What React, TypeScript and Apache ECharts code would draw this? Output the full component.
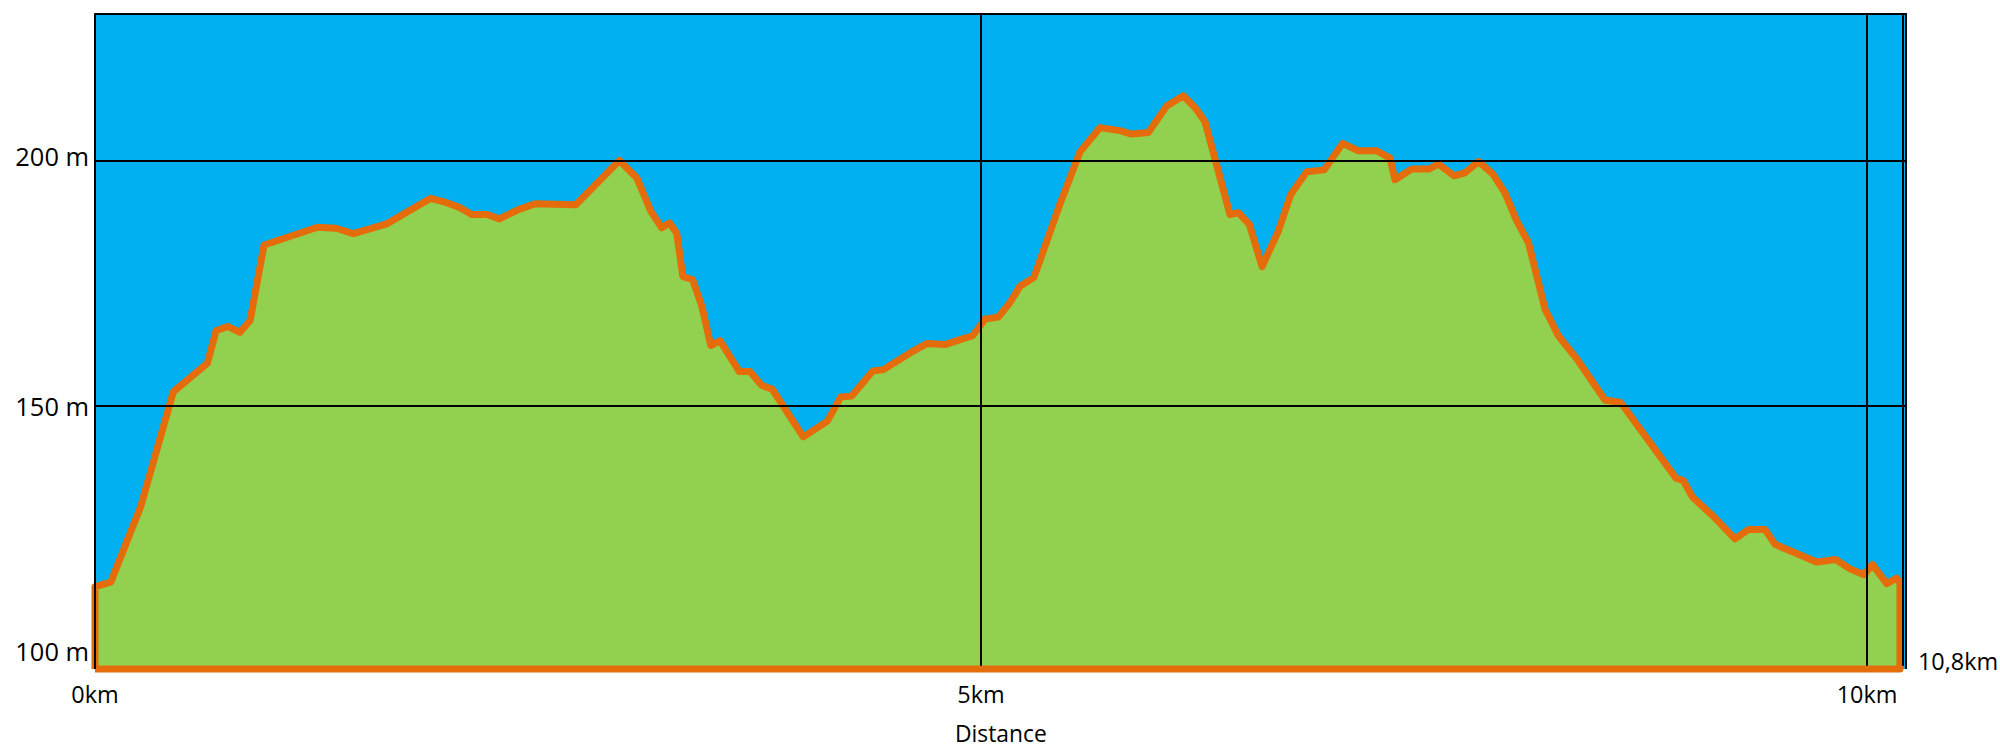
import React, { useEffect, useRef } from "react";
import * as echarts from "echarts";

// Elevation profile (distance in km, elevation in m)
const distanceKm = [
  0, 0.089, 0.258, 0.442, 0.634, 0.683, 0.749, 0.818, 0.875, 0.954,
  1.255, 1.36, 1.458, 1.646, 1.894, 1.985, 2.06, 2.126, 2.214, 2.282,
  2.389, 2.483, 2.713, 2.959, 3.057, 3.136, 3.198, 3.241, 3.283, 3.317,
  3.373, 3.424, 3.475, 3.527, 3.636, 3.696, 3.762, 3.822, 3.997, 4.133,
  4.208, 4.27, 4.389, 4.449, 4.599, 4.694, 4.797, 4.881, 4.953, 5.023,
  5.098, 5.164, 5.22, 5.299, 5.446, 5.559, 5.671, 5.784, 5.85, 5.944,
  6.048, 6.142, 6.212, 6.264, 6.405, 6.452, 6.514, 6.586, 6.678, 6.748,
  6.838, 6.937, 7.041, 7.129, 7.233, 7.308, 7.336, 7.431, 7.53, 7.581,
  7.669, 7.731, 7.807, 7.888, 7.957, 8.023, 8.089, 8.183, 8.258, 8.362,
  8.521, 8.61, 8.922, 8.963, 9.016, 9.133, 9.255, 9.33, 9.425, 9.481,
  9.716, 9.825, 9.904, 9.983, 10.03, 10.111, 10.168, 10.186,
];
const elevationM = [
  113.2, 114.1, 129.5, 152.9, 158.7, 165.3, 166.2, 165.0, 167.4, 182.8,
  186.4, 186.2, 185.1, 187.1, 192.3, 191.4, 190.4, 189.0, 189.0, 188.1,
  190.0, 191.2, 191.0, 200.0, 196.5, 189.7, 186.3, 187.3, 185.2, 176.4,
  175.7, 170.4, 162.3, 163.3, 157.0, 157.0, 154.2, 153.4, 143.7, 146.9,
  151.8, 152.0, 157.1, 157.4, 160.8, 162.7, 162.5, 163.5, 164.3, 167.7,
  168.1, 171.1, 174.4, 176.2, 191.2, 201.8, 206.7, 206.1, 205.4, 205.7,
  211.1, 213.2, 210.6, 207.9, 189.0, 189.4, 187.0, 178.4, 185.6, 193.1,
  197.7, 198.1, 203.5, 202.0, 202.0, 200.5, 196.1, 198.3, 198.3, 199.3,
  196.9, 197.5, 199.8, 197.3, 193.4, 187.7, 183.3, 169.7, 164.3, 159.6,
  151.2, 150.7, 135.3, 134.8, 131.4, 127.5, 122.9, 124.8, 124.8, 121.8,
  118.2, 118.7, 116.8, 115.6, 117.7, 113.8, 114.9, 114.0,
];

const yMin = 96.4;
const yMax = 230;
const xMin = 0;
const xMax = 10.224;
const yTickValues = [100, 150, 200];
const xTickValues = [0, 5, 10];
const horizontalGridValues = [150, 200];
const verticalGridValues = [5, 10, 10.2];
const endDistanceLabel = "10,8km";
const xAxisName = "Distance";

const FONT = "'Open Sans', 'Noto Sans', sans-serif";
const BLACK = "#000000";

export default function App() {
  const ref = useRef<HTMLDivElement>(null);

  useEffect(() => {
    document.body.style.margin = "0";
    const chart = echarts.init(ref.current as HTMLDivElement, null, { renderer: "svg" });

    const lastKm = distanceKm[distanceKm.length - 1];
    const profile: number[][] = [[xMin, yMin]];
    distanceKm.forEach((d, i) => profile.push([d, elevationM[i]]));
    profile.push([lastKm, yMin]);
    profile.push([xMin, yMin]);

    const lineBlack = { color: BLACK, width: 2, type: "solid" as const };

    const markData: any[] = [];
    horizontalGridValues.forEach((v) => markData.push({ yAxis: v }));
    // top border
    markData.push({ yAxis: yMax });
    // left border
    markData.push({ xAxis: xMin });
    verticalGridValues.forEach((v) =>
      markData.push([
        { coord: [v, yMin + 0.65] },
        { coord: [v, yMax] },
      ])
    );
    // right border
    markData.push({ xAxis: xMax });

    const option: any = {
      animation: false,
      textStyle: { fontFamily: FONT },
      grid: {
        left: 95,
        right: 93.3,
        top: 13.3,
        bottom: 78,
        show: true,
        backgroundColor: "#00B0F0",
        borderWidth: 0,
      },
      xAxis: {
        type: "value",
        min: xMin,
        max: xMax,
        axisLine: { show: false },
        axisTick: { show: false },
        splitLine: { show: false },
        axisLabel: {
          customValues: xTickValues,
          formatter: (v: number) => `${v}km`,
          color: BLACK,
          fontSize: 23.4,
          fontFamily: FONT,
          margin: 13,
        },
        name: xAxisName,
        nameLocation: "middle",
        nameGap: 53,
        nameTextStyle: { color: BLACK, fontSize: 22.8, fontFamily: FONT },
      },
      yAxis: {
        type: "value",
        min: yMin,
        max: yMax,
        axisLine: { show: false },
        axisTick: { show: false },
        splitLine: { show: false },
        axisLabel: {
          customValues: yTickValues,
          formatter: (v: number) => (v === 200 ? `{up|${v} m}` : `${v} m`),
          color: BLACK,
          fontSize: 25.4,
          fontFamily: FONT,
          margin: 6,
          rich: {
            up: {
              color: BLACK,
              fontSize: 25.4,
              fontFamily: FONT,
              padding: [0, 0, 10, 0],
            },
          },
        },
      },
      graphic: [
        {
          type: "text",
          x: 1918,
          y: 661,
          style: {
            text: endDistanceLabel,
            fill: BLACK,
            fontSize: 23.4,
            fontFamily: FONT,
            verticalAlign: "middle",
            align: "left",
          },
        },
      ],
      series: [
        {
          type: "line",
          data: profile,
          showSymbol: false,
          symbol: "none",
          clip: false,
          lineStyle: { color: "#E46C0A", width: 7, join: "round" },
          areaStyle: { color: "#92D050", opacity: 1 },
          markLine: {
            silent: true,
            symbol: ["none", "none"],
            label: { show: false },
            lineStyle: lineBlack,
            emphasis: { disabled: true },
            data: markData,
          },
        },
      ],
    };

    chart.setOption(option);
    return () => chart.dispose();
  }, []);

  return <div ref={ref} style={{ width: 2000, height: 750 }} />;
}
